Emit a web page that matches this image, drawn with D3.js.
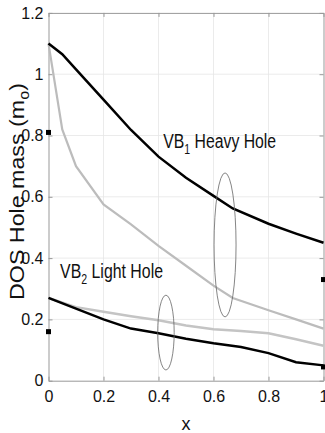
<!DOCTYPE html>
<html><head><meta charset="utf-8">
<script src="https://cdn.jsdelivr.net/npm/d3@7"></script>
<style>body{margin:0;background:#fff}svg{display:block}text{font-family:"Liberation Sans",Arial,sans-serif}</style>
</head><body>
<svg id="c" width="325" height="433"></svg>
<script>
const xs = [0, 0.05, 0.1, 0.2, 0.3, 0.4, 0.5, 0.6, 0.67, 0.8, 0.9, 1.0];
const heavyBlack = [1.10, 1.065, 1.016, 0.917, 0.818, 0.731, 0.662, 0.603, 0.562, 0.512, 0.48, 0.45];
const heavyGray  = [1.10, 0.82, 0.70, 0.575, 0.51, 0.44, 0.375, 0.31, 0.27, 0.23, 0.20, 0.17];
const xsL = [0, 0.1, 0.2, 0.3, 0.4, 0.5, 0.6, 0.7, 0.8, 0.9, 1.0];
const lightBlack = [0.27, 0.235, 0.20, 0.17, 0.155, 0.137, 0.122, 0.11, 0.09, 0.06, 0.05];
const lightGray  = [0.27, 0.24, 0.225, 0.21, 0.197, 0.18, 0.168, 0.162, 0.155, 0.135, 0.114];
const markerX = [0, 0, 1, 1];
const markerY = [0.81, 0.16, 0.33, 0.045];
const xTicks = [0, 0.2, 0.4, 0.6, 0.8, 1];
const xTickLabels = ["0", "0.2", "0.4", "0.6", "0.8", "1"];
const yTicks = [0, 0.2, 0.4, 0.6, 0.8, 1, 1.2];
const yTickLabels = ["0", "0.2", "0.4", "0.6", "0.8", "1", "1.2"];
const ellipses = [{cx:0.642, cy:0.443, rx:0.04, ry:0.235}, {cx:0.427, cy:0.157, rx:0.03, ry:0.122}];

const svg = d3.select("#c");
const L = 48.5, R = 323.5, T = 12.9, B = 380.7;
const x = d3.scaleLinear().domain([0,1]).range([L,R]);
const y = d3.scaleLinear().domain([0,1.2]).range([B,T]);

// grid
svg.append("g").selectAll("line").data(xTicks.slice(1,-1)).join("line")
  .attr("x1",d=>x(d)).attr("x2",d=>x(d)).attr("y1",T).attr("y2",B)
  .attr("stroke","#e6e6e6").attr("stroke-width",0.8);
svg.append("g").selectAll("line").data(yTicks.slice(1,-1)).join("line")
  .attr("y1",d=>y(d)).attr("y2",d=>y(d)).attr("x1",L).attr("x2",R)
  .attr("stroke","#e6e6e6").attr("stroke-width",0.8);

// axes
const xa = svg.append("g").attr("transform",`translate(0,${B})`)
  .call(d3.axisBottom(x).tickValues(xTicks).tickFormat((d,i)=>xTickLabels[i]).tickSizeInner(-4).tickSizeOuter(0).tickPadding(10));
const ya = svg.append("g").attr("transform",`translate(${L},0)`)
  .call(d3.axisLeft(y).tickValues(yTicks).tickFormat((d,i)=>yTickLabels[i]).tickSizeInner(-4).tickSizeOuter(0).tickPadding(5));
svg.append("g").attr("transform",`translate(0,${T})`)
  .call(d3.axisTop(x).tickValues(xTicks).tickFormat("").tickSizeInner(-4).tickSizeOuter(0));
svg.append("g").attr("transform",`translate(${R},0)`)
  .call(d3.axisRight(y).tickValues(yTicks).tickFormat("").tickSizeInner(-4).tickSizeOuter(0));
svg.selectAll(".domain").attr("stroke","#999");
svg.selectAll(".tick line").attr("stroke","#999");
svg.selectAll(".tick text").attr("font-size",16).attr("fill","#111").attr("font-family","Liberation Sans, Arial, sans-serif");

// lines
const line = (xv) => d3.line().x((d,i)=>x(xv[i])).y(d=>y(d));
const g = svg.append("g");
g.append("path").datum(heavyGray).attr("d",line(xs)).attr("fill","none").attr("stroke","#bcbcbc").attr("stroke-width",2.2);
g.append("path").datum(lightGray).attr("d",line(xsL)).attr("fill","none").attr("stroke","#c4c4c4").attr("stroke-width",2.5);
g.append("path").datum(heavyBlack).attr("d",line(xs)).attr("fill","none").attr("stroke","#000").attr("stroke-width",2.5);
g.append("path").datum(lightBlack).attr("d",line(xsL)).attr("fill","none").attr("stroke","#000").attr("stroke-width",2.5);

// ellipses
svg.append("g").selectAll("ellipse").data(ellipses).join("ellipse")
  .attr("cx",d=>x(d.cx)).attr("cy",d=>y(d.cy))
  .attr("rx",d=>x(d.rx)-x(0)).attr("ry",d=>y(0)-y(d.ry))
  .attr("fill","none").attr("stroke","#666").attr("stroke-width",0.8);

// markers
svg.append("g").selectAll("rect").data(markerY).join("rect")
  .attr("x",(d,i)=>x(markerX[i])-2.5).attr("y",d=>y(d)-2.5)
  .attr("width",5).attr("height",5).attr("fill","#000");

// labels
function fitText(sel, w){ const bw = sel.node().getBBox().width; return w / bw; }
function label(main, sub, rest, xv, yv, w){
  const t = svg.append("text").attr("font-size",21).attr("fill","#111");
  t.append("tspan").text(main);
  t.append("tspan").attr("font-size",14).attr("dy",6).text(sub);
  t.append("tspan").attr("dy",-6).text(rest);
  const s = fitText(t, w);
  t.attr("transform",`translate(${x(xv)},${y(yv)}) scale(${s},1)`);
}
label("VB", "1", " Heavy Hole", 0.417, 0.758, 113);
label("VB", "2", " Light Hole", 0.042, 0.335, 103);

// y label
const yl = svg.append("text").attr("font-size",20).attr("fill","#111").attr("text-anchor","middle");
yl.append("tspan").text("DOS Hole mass (m");
yl.append("tspan").attr("font-size",14).attr("dy",5).text("o");
yl.append("tspan").attr("dy",-5).text(")");
const sy = fitText(yl, 217);
yl.attr("transform",`translate(24,191.5) rotate(-90) scale(${sy},1)`);

// x label
svg.append("text").attr("x",x(0.5)).attr("y",430).attr("text-anchor","middle")
  .attr("font-size",18).attr("fill","#111").text("x");
</script>
</body></html>
